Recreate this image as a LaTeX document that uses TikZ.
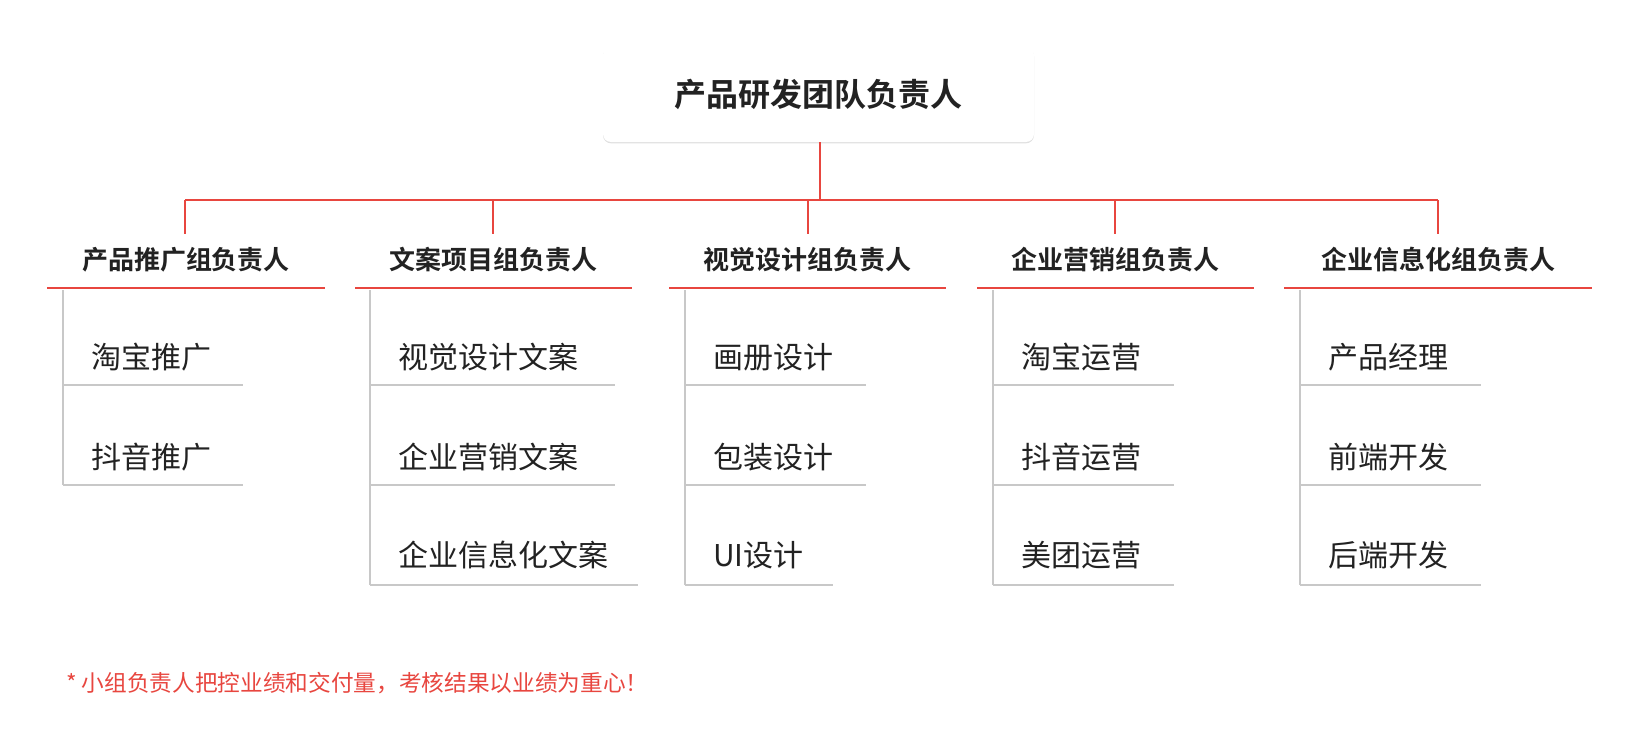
\documentclass[tikz,border=0pt]{standalone}
\usepackage{fontspec}
\setmainfont{Noto Sans CJK SC}
\newfontfamily\cjkb{Noto Sans CJK SC Bold}
\usetikzlibrary{shadows}
\definecolor{rl}{HTML}{E8463F}
\definecolor{gl}{HTML}{C8C8C8}
\definecolor{tx}{HTML}{222222}
\begin{document}
\begin{tikzpicture}[x=0.75pt,y=-0.75pt,
  red/.style={rl,line width=1.1pt},
  gry/.style={gl,line width=1.4pt},
  head/.style={font=\cjkb\fontsize{19.5}{22}\selectfont,text=tx,anchor=center},
  item/.style={font=\fontsize{22.5}{26}\selectfont,text=tx,anchor=west,inner sep=0pt}]
\useasboundingbox (0,0) rectangle (1636,749);
\fill[white] (0,0) rectangle (1636,749);
\node[draw=none,fill=white,rounded corners=6pt,minimum width=431*0.75pt,minimum height=95*0.75pt,
  drop shadow={shadow xshift=0pt,shadow yshift=-1pt,opacity=0.12,fill=black},
  font=\cjkb\fontsize{24}{28}\selectfont,text=tx] (top) at (818.5,94.5) {产品研发团队负责人};
\coordinate (j) at (820,200);
\draw[red] (top.south -| j) -- (j);
\draw[red] (185,200) -- (1438,200);
\foreach \x/\a/\b/\t [count=\i] in {185/47/325/产品推广组负责人,493/355/632/文案项目组负责人,808/669/946/视觉设计组负责人,1115/977/1254/企业营销组负责人,1438/1284/1592/企业信息化组负责人}{
  \coordinate (d\i) at (\x,200);
  \draw[red] (d\i) -- ++(0,34);
  \node[head] (h\i) at ({(\a+\b)/2},260) {\t};
  \draw[red] (\a,288) -- (\b,288);
}
% group 1
\draw[gry] (63,290) -- (63,485);
\draw[gry] (63,385) -- (243,385); \draw[gry] (63,485) -- (243,485);
\node[item] (a1) at (91,357) {淘宝推广};
\node[item] (a2) at (91,457) {抖音推广};
% group 2
\draw[gry] (370,290) -- (370,585);
\draw[gry] (370,385) -- (615,385); \draw[gry] (370,485) -- (615,485); \draw[gry] (370,585) -- (638,585);
\node[item] (b1) at (398,357) {视觉设计文案};
\node[item] (b2) at (398,457) {企业营销文案};
\node[item] (b3) at (398,555) {企业信息化文案};
% group 3
\draw[gry] (685,290) -- (685,585);
\draw[gry] (685,385) -- (866,385); \draw[gry] (685,485) -- (866,485); \draw[gry] (685,585) -- (833,585);
\node[item] (c1) at (713,357) {画册设计};
\node[item] (c2) at (713,457) {包装设计};
\node[item] (c3) at (713,555) {UI设计};
% group 4
\draw[gry] (993,290) -- (993,585);
\draw[gry] (993,385) -- (1174,385); \draw[gry] (993,485) -- (1174,485); \draw[gry] (993,585) -- (1174,585);
\node[item] (e1) at (1021,357) {淘宝运营};
\node[item] (e2) at (1021,457) {抖音运营};
\node[item] (e3) at (1021,555) {美团运营};
% group 5
\draw[gry] (1300,290) -- (1300,585);
\draw[gry] (1300,385) -- (1481,385); \draw[gry] (1300,485) -- (1481,485); \draw[gry] (1300,585) -- (1481,585);
\node[item] (f1) at (1328,357) {产品经理};
\node[item] (f2) at (1328,457) {前端开发};
\node[item] (f3) at (1328,555) {后端开发};
\node[anchor=west,inner sep=0pt,text=rl,font=\fontsize{17}{20}\selectfont] (note) at (66,683) {* 小组负责人把控业绩和交付量，考核结果以业绩为重心！};
\end{tikzpicture}
\end{document}
